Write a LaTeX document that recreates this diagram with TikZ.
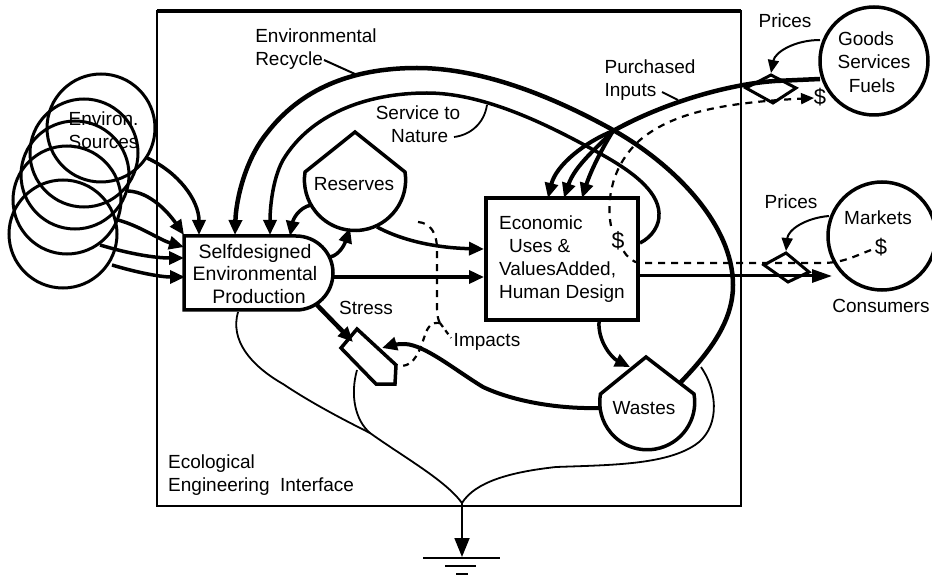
\documentclass[tikz,border=0pt]{standalone}
\usepackage{fontspec}
\setmainfont{Liberation Sans}
\usetikzlibrary{arrows.meta}
\tikzset{
  lab/.style={inner sep=0pt,font=\fontsize{19}{23.5}\selectfont,align=left},
  ring/.style={circle,draw,line width=3pt,minimum size=108pt,inner sep=0pt,outer sep=0pt},
  outline/.style={draw,line width=3.5pt,line join=miter},
  flow/.style={line width=3.5pt,-{Triangle[length=15pt,width=13pt]}},
  heavy/.style={line width=4.5pt},
  fine/.style={line width=1.8pt},
  moneyline/.style={line width=2.2pt,dash pattern=on 7pt off 6pt},
  thinhead/.style={line width=2pt,-{Triangle[length=13pt,width=11pt]}}
}
\begin{document}
\begin{tikzpicture}[x=1pt,y=-1pt]
\useasboundingbox (0,0) rectangle (932,577);
\fill[white] (0,0) rectangle (932,577);
% frame
\node[draw,line width=2.5pt,minimum width=584pt,minimum height=495pt,inner sep=0pt,outer sep=0pt] (frame) at (449,258.5) {};
\draw[line width=4pt] (frame.north west) -- (frame.north east);
% sources
\node[ring] (srcA) at (101,128) {};
\node[ring] (srcB) at (84,153) {};
\node[ring] (srcC) at (75,175) {};
\node[ring] (srcD) at (67,200) {};
\node[ring] (srcE) at (63,234) {};
\node[lab] (srclabel) at (102,130) {\,Environ.\\\,Sources};
% outside circles
\node[ring,line width=3.5pt] (goods) at (874,61) {};
\node[ring,line width=3.5pt] (markets) at (882,236) {};
% main nodes
\node[draw,line width=3.5pt,minimum width=152pt,minimum height=122pt,inner sep=0pt,outer sep=0pt,font=\fontsize{19}{23}\selectfont,align=left] (econ) at (562,259) {Economic\\\hspace*{10pt}Uses \&\\ValuesAdded,\\Human Design};
\draw[outline] (296,236) -- (184,236) -- (184,310) -- (296,310) arc[start angle=-90,end angle=90,radius=37pt] -- cycle;
\node[lab,align=center,font=\fontsize{19.5}{22.5}\selectfont] (selfd) at (255,274) {Selfdesigned\\Environmental\\\hspace*{8pt}Production};
% reserves, wastes
\draw[outline] (355,132) -- (405,172) arc[start angle=9,end angle=-189,radius=50.6pt] -- cycle;
\node[lab] (reserves) at (354,184) {Reserves};
\draw[outline] (646,357) -- (694,394) arc[start angle=10,end angle=-190,radius=47.5pt] -- cycle;
\node[lab] (wastes) at (644,408) {Wastes};
% stress unit
\draw[outline] (341,348) -- (357,329) -- (396,365) -- (395,384) -- (376,384) -- cycle;
\coordinate (stressT) at (353,342);
\coordinate (stressR) at (382,348);
% price diamonds
\draw[line width=3pt] (771,75) -- (796,88) -- (773,103) -- (746,88) -- cycle;
\draw[line width=3pt] (786,253) -- (809,272) -- (788,282) -- (764,265) -- cycle;
% coordinates
\coordinate (sa) at (147,158); \coordinate (ta) at (199,235);
\coordinate (sb) at (128,191); \coordinate (tb) at (184,235);
\coordinate (sc) at (118,220); \coordinate (tc) at (184,247);
\coordinate (sd) at (100,245); \coordinate (td) at (184,258);
\coordinate (se) at (112,265); \coordinate (te) at (185,277);
% source inflows
\draw[flow] (sa) .. controls (178,172) and (199,200) .. (ta);
\draw[flow] (sb) .. controls (150,192) and (168,212) .. (tb);
\draw[flow] (sc) .. controls (140,226) and (160,240) .. (tc);
\draw[flow] (sd) .. controls (130,254) and (155,258) .. (td);
\draw[flow] (se) .. controls (135,272) and (160,277) .. (te);
% recycle
\coordinate (wasteOut) at (679,384);
\coordinate (selfA) at (235,235);
\draw[flow,line width=4.5pt] (wasteOut) .. controls (712,350) and (733,320) .. (733,285) .. controls (733,225) and (675,165) .. (613,130) .. controls (550,95) and (480,68) .. (417,68) .. controls (350,68) and (300,90) .. (267,133) .. controls (245,160) and (236,200) .. (selfA);
% service
\coordinate (econSvc) at (640,243);
\coordinate (selfB) at (270,235);
\draw[flow] (econSvc) .. controls (652,237) and (660,225) .. (659,213) .. controls (658,190) and (630,170) .. (599,153) .. controls (540,120) and (480,93) .. (427,93) .. controls (365,93) and (310,115) .. (283,160) .. controls (272,180) and (270,210) .. (selfB);
% reserves links
\coordinate (resA) at (311,205); \coordinate (selfC) at (290,236);
\draw[flow] (resA) .. controls (298,208) and (293,220) .. (selfC);
\coordinate (selfD) at (330,257); \coordinate (resB) at (350,228);
\draw[flow] (selfD) .. controls (340,255) and (345,243) .. (resB);
\coordinate (resC) at (377,227);
\coordinate (econL) at (484,249); \coordinate (econM) at (484,277); \coordinate (selfE) at (333,277);
\draw[flow] (resC) .. controls (405,242) and (440,248) .. (econL);
\draw[flow] (selfE) -- (econM);
% stress flows
\coordinate (selfF) at (317,305);
\draw[flow,line width=4.5pt] (selfF) -- (stressT);
\coordinate (wasteL) at (599,408);
\draw[flow,line width=4pt] (wasteL) .. controls (560,409) and (515,402) .. (483,387) .. controls (455,370) and (425,345) .. (405,344) .. controls (398,344) and (392,345) .. (stressR);
% econ to wastes
\coordinate (econB) at (599,322); \coordinate (wasteT) at (630,367);
\draw[flow] (econB) .. controls (598,342) and (612,358) .. (wasteT);
% output
\coordinate (outTip) at (832,276); \coordinate (econR) at (638,276);
\draw[line width=3pt,-{Triangle[length=20pt,width=13pt]}] (econR) -- (outTip);
% purchased inputs
\coordinate (goodsOut) at (820,79);
\coordinate (junction) at (613,131);
\draw[heavy] (goodsOut) -- (775,81) .. controls (730,84) and (665,102) .. (junction);
\draw[flow,line width=4pt] (junction) .. controls (585,142) and (556,165) .. (548,198);
\draw[flow,line width=4pt] (junction) .. controls (600,145) and (575,165) .. (564,198);
\draw[flow,line width=4pt] (junction) .. controls (606,142) and (592,167) .. (582,198);
% prices
\coordinate (goodsP) at (820,40); \coordinate (marketsP) at (829,216);
\draw[thinhead] (goodsP) .. controls (795,40) and (775,52) .. (771,73);
\draw[thinhead] (marketsP) .. controls (805,218) and (788,230) .. (786,251);
% dashed money
\coordinate (dollarE) at (611,226); \coordinate (dollarG) at (814,98);
\draw[moneyline,-{Triangle[length=13pt,width=11pt]}] (dollarE) .. controls (606,200) and (612,165) .. (640,140) .. controls (670,115) and (715,103) .. (dollarG);
\coordinate (dollarM) at (871,250); \coordinate (dollarF) at (623,250);
\draw[moneyline] (dollarM) .. controls (855,256) and (845,262) .. (825,263) -- (640,263) .. controls (632,262) and (627,257) .. (dollarF);
\coordinate (impTop) at (418,222); \coordinate (impJ) at (440,323);
\draw[moneyline] (impTop) .. controls (430,223) and (437,232) .. (437,250) -- (437,305) .. controls (437,315) and (438,320) .. (impJ);
\draw[moneyline,dash pattern=on 5pt off 4pt] (impJ) -- (451,338);
\draw[moneyline,dash pattern=on 6pt off 5pt] (impJ) .. controls (432,322) and (428,326) .. (425,335) .. controls (420,350) and (415,365) .. (402,366);
% thin
\coordinate (sink) at (462,503);
\coordinate (groundTip) at (462,557);
\coordinate (mergeH) at (370,433);
\draw[fine] (238,312) .. controls (230,340) and (250,365) .. (283,384) .. controls (310,402) and (340,418) .. (mergeH) .. controls (405,458) and (445,480) .. (sink);
\draw[fine] (357,370) .. controls (350,395) and (355,420) .. (mergeH);
\draw[fine] (701,367) .. controls (720,395) and (718,430) .. (695,445) .. controls (665,465) and (610,465) .. (556,467) .. controls (510,472) and (475,482) .. (sink);
\draw[fine,-{Triangle[length=19pt,width=15pt]}] (sink) -- (groundTip);
\draw[line width=2.2pt] (423,558) -- (500,558);
\draw[line width=2.2pt] (445,566) -- (476,566);
\draw[line width=2.2pt] (456,574) -- (468,574);
% leaders
\node[lab] (recycle) at (316,49) {Environmental\\Recycle};
\draw[line width=2pt] (324,60) -- (355,74);
\node[lab,align=center] (service) at (418,124) {Service to\\\,Nature};
\draw[line width=1.8pt] (454,137) .. controls (470,135) and (484,124) .. (487,105);
\node[lab] (purch) at (650,80) {Purchased\\Inputs};
\draw[line width=2pt] (662,92) -- (678,100);
\node[lab] (stresslab) at (366,308) {Stress};
\node[lab] (impacts) at (487,342) {Impacts};
\node[lab] (prices1) at (785,21) {Prices};
\node[lab] (prices2) at (791,202) {Prices};
\node[lab,align=center] (goodslab) at (874,62) {Goods\hspace*{16pt}\\Services\\Fuels\hspace*{4pt}};
\node[lab] (marketslab) at (878,218) {Markets};
\node[lab,font=\fontsize{22}{24}\selectfont] (dollarm) at (881,247) {\$};
\node[lab,font=\fontsize{23}{24}\selectfont] (dollare) at (618,241) {\$};
\node[lab,font=\fontsize{22}{24}\selectfont] (dollarg) at (820,97) {\$};
\node[lab] (consumers) at (881,306) {Consumers};
\node[lab,anchor=west] (eco) at (168,475) {Ecological\\Engineering\ \ Interface};
\end{tikzpicture}
\end{document}
